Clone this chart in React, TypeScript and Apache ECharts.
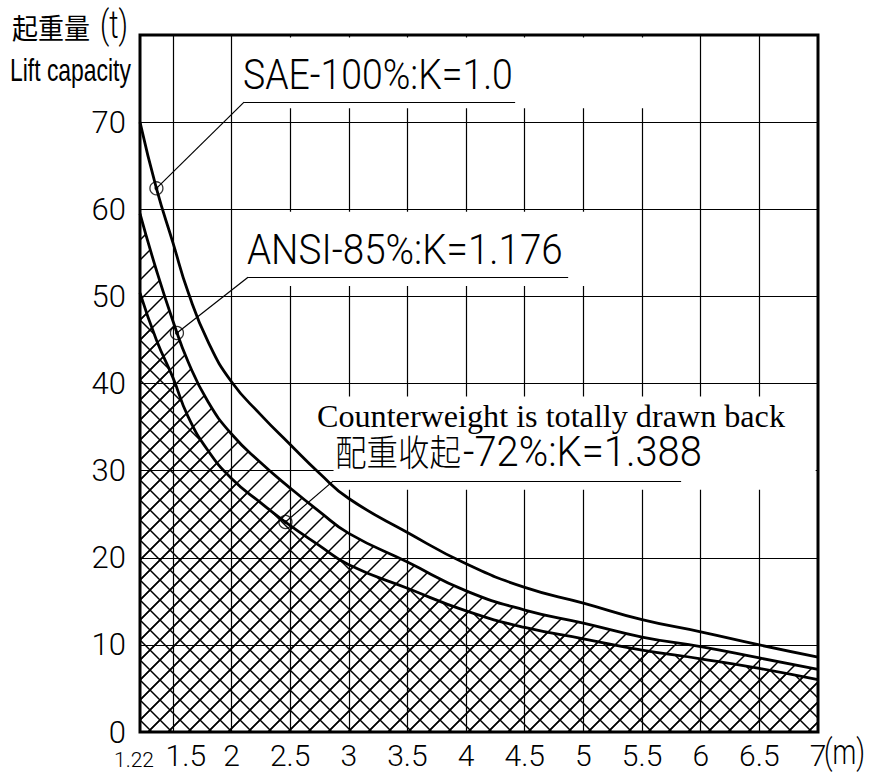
import React, { useEffect, useRef } from "react";
import * as echarts from "echarts";

// ---------- data ----------
const xLabelValues = [1.22, 1.5, 2, 2.5, 3, 3.5, 4, 4.5, 5, 5.5, 6, 6.5, 7];
const xGridValues = [1.5, 2, 2.5, 3, 3.5, 4, 4.5, 5, 5.5, 6, 6.5];
const yLabelValues = [0, 10, 20, 30, 40, 50, 60, 70];

// SAE-100% : K=1.0
const saeCurve = [
  [1.22, 70], [1.36, 62.4], [1.5, 56.2], [1.63, 50.5], [1.8, 44.8], [2, 40.2],
  [2.25, 36.4], [2.5, 33.0], [2.75, 29.7], [3, 26.8], [3.5, 22.9], [4, 19.3],
  [4.5, 16.6], [5, 14.8], [5.5, 12.9], [6, 11.5], [6.5, 10.0], [7, 8.6],
];
// ANSI-85% : K=1.176
const ansiCurve = [
  [1.22, 59.5], [1.36, 53.0], [1.5, 47.2], [1.63, 42.5], [1.8, 37.9], [2, 34.2],
  [2.25, 30.9], [2.5, 28.0], [2.75, 25.3], [3, 22.8], [3.5, 19.5], [4, 16.2],
  [4.5, 14.0], [5, 12.5], [5.5, 10.9], [6, 9.8], [6.5, 8.5], [7, 7.2],
];
// 配重收起-72% : K=1.388
const cwCurve = [
  [1.22, 50.4], [1.36, 45.0], [1.5, 40.7], [1.63, 36.2], [1.8, 32.3], [2, 29.1],
  [2.25, 26.3], [2.46, 24.1], [2.75, 21.4], [3, 19.2], [3.5, 16.5], [4, 13.9],
  [4.5, 12.0], [5, 10.7], [5.5, 9.4], [6, 8.4], [6.5, 7.3], [7, 6.0],
];
const markerPoints = [[1.36, 62.4], [1.535, 45.8], [2.46, 24.1]];

// annotation geometry (data space): underline [x1, x2, y]
const underlines = [[2.107, 4.418, 72.3], [2.141, 4.87, 52.2], [2.866, 5.833, 28.8]];
// white boxes behind the annotation texts [x1, y1, x2, y2]
const textBoxes = [[2.05, 71.6, 5.9, 79.7], [2.05, 51.2, 5.25, 59.7], [2.87, 27.8, 6.98, 38.5]];

const saeText = "SAE-100%:K=1.0";
const ansiText = "ANSI-85%:K=1.176";
const cwTextEn = "Counterweight is totally drawn back";
const cwTextCn = "配重收起";
const cwTextK = "-72%:K=1.388";
const titleCn = "起重量";
const titleUnit = "(t)";
const titleEn = "Lift capacity";
const xUnit = "(m)";

// ---------- styles ----------
const CAD = "Roboto, 'DejaVu Sans', sans-serif";
const CJK = "'Noto Sans CJK SC', sans-serif";

function fitScale(text: string, size: number, family: string, weight: any, target: number) {
  const c = document.createElement("canvas").getContext("2d");
  if (!c) return 1;
  c.font = `${weight} ${size}px ${family}`;
  const w = c.measureText(text).width;
  return w > 0 ? target / w : 1;
}

function txt(text: string, x: number, yMid: number, size: number, family: string, weight: any, width: number) {
  return {
    type: "text",
    x,
    y: yMid,
    z: 10,
    scaleX: fitScale(text, size, family, weight, width),
    style: {
      text,
      fontSize: size,
      fontFamily: family,
      fontWeight: weight,
      fill: "#000",
      textAlign: "left",
      verticalAlign: "middle",
      textVerticalAlign: "middle",
    },
  };
}

function hatch(cross: boolean) {
  let d = "M-5,5L5,-5M0,20L20,0M15,25L25,15";
  if (cross) d += "M-5,15L5,25M0,0L20,20M15,-5L25,5";
  const svg = `<svg xmlns='http://www.w3.org/2000/svg' width='20' height='20'><path d='${d}' stroke='black' stroke-width='1.5' fill='none'/></svg>`;
  return {
    image: "data:image/svg+xml;charset=utf-8," + encodeURIComponent(svg),
    repeat: "repeat",
    imageWidth: 20,
    imageHeight: 20,
  };
}

export default function App() {
  const ref = useRef<HTMLDivElement>(null);
  useEffect(() => {
    if (!ref.current) return;
    const chart = echarts.init(ref.current, null, { renderer: "svg" });
    const curveLine = { color: "#000", width: 2.8 };
    const option: any = {
      animation: false,
      backgroundColor: "#fff",
      grid: {
        left: 140, top: 35, width: 678, height: 697,
        show: true, borderColor: "#000", borderWidth: 3, backgroundColor: "transparent",
        containLabel: false, outerBoundsMode: "none",
      },
      xAxis: {
        type: "value", min: 1.22, max: 7,
        axisLine: { show: false },
        axisTick: { show: false, customValues: xGridValues },
        splitLine: { show: true, lineStyle: { color: "#000", width: 1.2 } },
        axisLabel: {
          customValues: xLabelValues,
          margin: 8,
          hideOverlap: false,
          formatter: (v: number) => (v === 1.22 ? "{s|1.22}" : v === 1.5 ? "{b|1.5}" : "{a|" + v + "}"),
          rich: {
            a: { fontSize: 30, fontFamily: CAD, fontWeight: 300, color: "#000" },
            b: { fontSize: 30, fontFamily: CAD, fontWeight: 300, color: "#000", padding: [0, 0, 0, 26] },
            s: { fontSize: 21, fontFamily: CAD, fontWeight: 300, color: "#000", padding: [9, 12, 0, 0] },
          },
        },
      },
      yAxis: {
        type: "value", min: 0, max: 80, interval: 10,
        axisLine: { show: false },
        axisTick: { show: false },
        splitLine: { show: true, lineStyle: { color: "#000", width: 1.2 } },
        axisLabel: {
          customValues: yLabelValues,
          margin: 14,
          fontSize: 31, fontFamily: CAD, fontWeight: 300, color: "#000",
        },
      },
      series: [
        {
          type: "line", name: "boxes", data: [[1.22, 0]], symbol: "none",
          lineStyle: { opacity: 0 }, silent: true,
          markArea: {
            silent: true,
            itemStyle: { color: "#fff", borderWidth: 0 },
            label: { show: false },
            data: textBoxes.map((b) => [{ coord: [b[0], b[1]] }, { coord: [b[2], b[3]] }]),
          },
        },
        {
          type: "line", name: "ANSI", data: ansiCurve, smooth: 0.5,
          symbol: "none", lineStyle: curveLine, areaStyle: { color: hatch(false), opacity: 1 }, z: 3,
        },
        {
          type: "line", name: "CW", data: cwCurve, smooth: 0.5,
          symbol: "none", lineStyle: curveLine, areaStyle: { color: hatch(true), opacity: 1 }, z: 3,
        },
        {
          type: "line", name: "SAE", data: saeCurve, smooth: 0.5,
          symbol: "none", lineStyle: curveLine, z: 3,
        },
        {
          type: "scatter", name: "markers", data: markerPoints, symbol: "circle", symbolSize: 13, z: 6,
          itemStyle: { color: "rgba(0,0,0,0)", borderColor: "#000", borderWidth: 1.3 },
          markLine: {
            silent: true, symbol: ["none", "none"], label: { show: false },
            lineStyle: { color: "#000", width: 1.2, type: "solid" },
            data: [
              ...markerPoints.map((p, i) => [{ coord: p }, { coord: [underlines[i][0], underlines[i][2]] }]),
              ...underlines.map((u) => [{ coord: [u[0], u[2]] }, { coord: [u[1], u[2]] }]),
            ],
          },
        },
        {
          type: "scatter", name: "dots", data: markerPoints, symbol: "circle", symbolSize: 4, z: 7,
          itemStyle: { color: "#000" },
        },
      ],
      graphic: [
        txt(titleCn, 12, 27, 28, CJK, "normal", 78),
        txt(titleUnit, 100, 25, 38, CAD, 300, 28),
        txt(titleEn, 10, 70, 32, "'Liberation Sans', Arial, sans-serif", "normal", 121),
        txt(saeText, 243, 75, 42, CAD, 300, 270),
        txt(ansiText, 247, 250, 42, CAD, 300, 316),
        txt(cwTextEn, 317, 416, 32, "'Liberation Serif', serif", "normal", 468),
        txt(cwTextCn, 335, 451, 36, CJK, 300, 126),
        txt(cwTextK, 463, 452, 42, CAD, 300, 239),
        txt(xUnit, 824, 752, 36, CAD, 300, 41),
      ],
    };
    chart.setOption(option);
    return () => chart.dispose();
  }, []);
  return <div ref={ref} style={{ position: "fixed", left: 0, top: 0, width: 870, height: 774, background: "#fff" }} />;
}
